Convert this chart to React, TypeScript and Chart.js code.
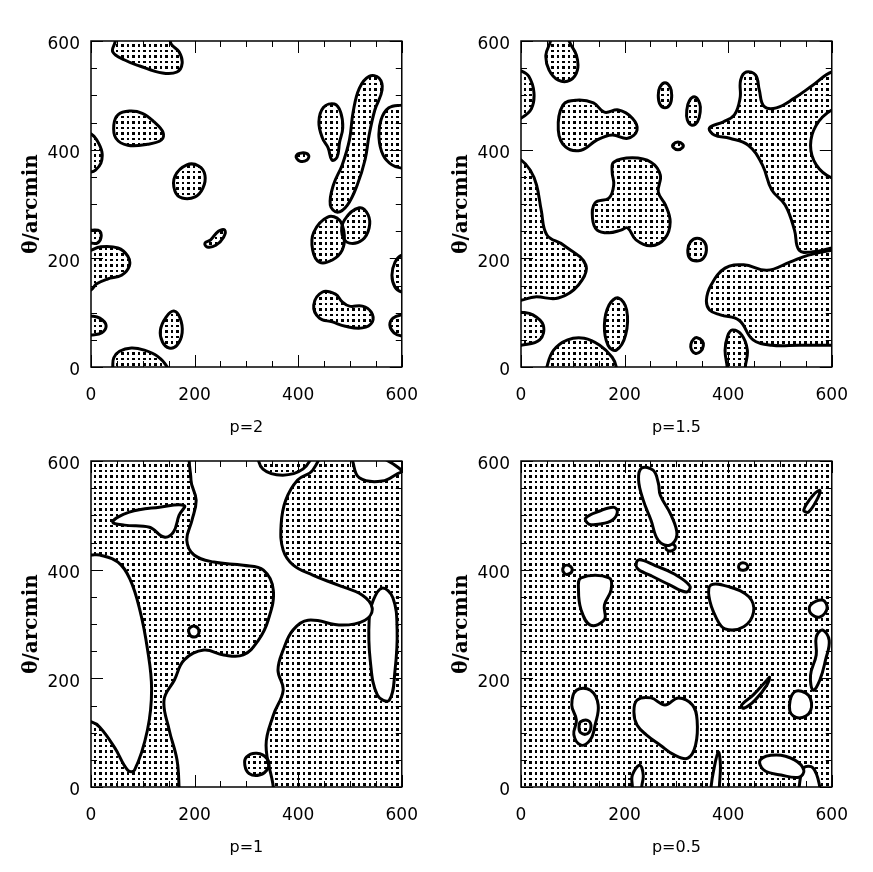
import React, { useEffect, useRef } from "react";
import { Chart, registerables } from "chart.js";
Chart.register(...registerables);

type Pt = [number, number];

const majorTicks = [0, 200, 400, 600];
const minorTicks = [0, 50, 100, 150, 200, 250, 300, 350, 400, 450, 500, 550, 600];
const xTitles = ["p=2", "p=1.5", "p=1", "p=0.5"];
const yTitle = "θ/arcmin";
const fullArea: Pt[] = [[-20, -20], [620, -20], [620, 620], [-20, 620]];

// p=2 : stippled regions
const p2Filled: Pt[][] = [
  [[47,615],[47,600],[42,580],[65,565],[94,554],[138,541],[166,543],[176,559],[170,580],[155,594],[147,615]],
  [[52,464],[74,471],[99,467],[122,451],[139,432],[136,418],[109,410],[71,408],[48,421],[44,445]],
  [[-10,429],[0,429],[11,418],[21,396],[19,375],[8,362],[0,359],[-10,359]],
  [[185,372],[208,370],[220,353],[216,329],[201,313],[176,311],[162,324],[162,351]],
  [[231,234],[246,250],[258,252],[256,239],[241,224],[224,221],[220,228]],
  [[-10,252],[0,252],[17,250],[19,237],[12,228],[0,228],[-10,228]],
  [[-10,215],[0,215],[17,221],[52,219],[71,204],[74,186],[59,169],[32,162],[11,153],[0,142],[-10,142]],
  [[-10,94],[0,94],[17,90],[29,77],[21,63],[0,59],[-10,59]],
  [[160,103],[172,90],[176,63],[166,40],[151,35],[138,46],[134,68],[145,92]],
  [[42,-15],[42,0],[44,17],[55,29],[78,35],[103,31],[128,20],[147,0],[147,-15]],
  [[396,388],[407,394],[420,390],[417,381],[403,379]],
  [[449,478],[470,484],[482,469],[486,440],[480,414],[475,386],[465,381],[458,403],[447,421],[440,451]],
  [[537,535],[556,532],[562,510],[548,473],[537,427],[529,381],[514,335],[495,298],[476,285],[462,298],[468,335],[485,372],[499,418],[506,469],[518,513]],
  [[615,482],[600,482],[575,477],[560,455],[556,422],[564,390],[581,372],[600,366],[615,366]],
  [[457,276],[480,270],[489,243],[485,215],[466,197],[441,193],[428,215],[430,248]],
  [[518,293],[535,280],[537,256],[524,234],[499,228],[485,243],[489,270]],
  [[615,206],[600,206],[587,193],[581,169],[587,147],[600,138],[615,138]],
  [[447,138],[472,134],[485,120],[499,112],[524,112],[541,101],[543,83],[524,72],[491,75],[466,83],[441,90],[430,114]],
  [[615,96],[600,96],[583,90],[577,77],[585,63],[600,57],[615,57]],
];

// p=1.5 : stippled regions
const p15Filled: Pt[][] = [
  [[57,615],[57,600],[48,574],[54,547],[72,528],[95,528],[109,547],[107,574],[93,600],[93,615]],
  [[-10,545],[0,545],[15,535],[25,505],[20,475],[0,458],[-10,458]],
  [[81,482],[107,491],[140,486],[161,469],[188,473],[215,458],[224,436],[206,421],[176,427],[147,418],[116,399],[86,405],[72,436]],
  [[278,523],[288,515],[291,500],[288,484],[278,477],[268,484],[265,500],[268,515]],
  [[336,497],[345,485],[346,470],[341,452],[330,445],[321,455],[320,472],[325,490]],
  [[303,414],[312,410],[312,404],[303,400],[294,404],[294,410]],
  [[364,440],[390,451],[412,464],[423,495],[424,528],[435,543],[453,537],[460,510],[469,480],[493,477],[528,495],[564,519],[600,543],[629,543],[629,477],[600,473],[570,445],[559,408],[570,372],[600,348],[629,348],[629,224],[600,219],[564,212],[537,215],[528,252],[510,298],[484,326],[466,372],[439,408],[403,421],[373,427]],
  [[179,377],[215,385],[251,377],[269,353],[265,322],[279,298],[288,267],[278,237],[251,223],[222,234],[206,256],[193,252],[170,247],[147,252],[138,274],[143,302],[170,311],[179,335],[176,359]],
  [[-10,381],[0,381],[18,362],[30,335],[39,289],[50,243],[81,225],[125,188],[111,151],[72,127],[27,129],[0,123],[-10,123]],
  [[-10,101],[0,101],[23,96],[43,77],[36,50],[0,40],[-10,40]],
  [[50,-15],[50,0],[63,31],[90,50],[122,53],[152,40],[176,18],[184,0],[184,-15]],
  [[188,127],[204,105],[202,59],[184,31],[168,40],[161,77],[170,114]],
  [[340,54],[350,48],[352,39],[347,29],[337,25],[329,32],[328,42],[333,51]],
  [[408,68],[426,59],[437,31],[433,0],[433,-15],[398,-15],[398,0],[394,31],[399,57]],
  [[340,237],[354,230],[358,215],[352,200],[339,195],[326,200],[322,215],[327,230]],
  [[358,123],[367,151],[394,182],[430,188],[475,178],[519,193],[555,206],[600,215],[629,215],[629,40],[600,40],[537,40],[484,40],[448,50],[421,86],[385,96],[364,105]],
];

// p=1 : white holes in a stippled field, stippled islands inside holes
const p1Holes: Pt[][] = [
  [[42,488],[74,506],[132,515],[180,518],[170,500],[159,469],[141,460],[113,478],[65,482]],
  [[201,620],[438,620],[428,583],[399,565],[376,528],[367,482],[371,436],[390,409],[428,390],[476,372],[524,353],[543,329],[529,307],[485,298],[419,307],[390,289],[371,252],[361,215],[371,178],[352,132],[338,77],[352,0],[352,-24],[170,-24],[170,0],[166,50],[151,105],[141,160],[161,197],[180,234],[218,252],[256,243],[294,243],[323,270],[342,307],[352,362],[333,399],[294,408],[237,414],[199,427],[185,454],[195,491],[203,528],[193,565]],
  [[-20,427],[0,427],[17,427],[52,414],[75,383],[94,327],[109,254],[117,180],[109,105],[84,31],[71,31],[46,72],[17,110],[0,120],[-20,120]],
  [[562,366],[583,348],[591,289],[587,215],[576,160],[553,169],[539,234],[537,307],[545,344]],
  [[500,620],[505,600],[518,569],[562,563],[600,580],[620,580],[620,620]],
  [[190,292],[200,296],[208,289],[205,278],[194,277],[189,284]],
];
const p1Islands: Pt[][] = [
  [[327,610],[332,585],[370,574],[409,585],[422,610]],
  [[300,55],[320,62],[340,52],[342,35],[325,22],[305,25],[297,40]],
];

// p=0.5 : white holes in a stippled field
const p05Holes: Pt[][] = [
  [[125,495],[152,508],[179,515],[186,506],[176,491],[152,484],[131,484]],
  [[233,587],[255,583],[265,560],[269,537],[290,500],[301,464],[287,445],[265,454],[251,491],[236,528],[227,565]],
  [[280,444],[290,448],[298,442],[292,435],[282,436]],
  [[227,418],[260,407],[296,392],[326,370],[319,359],[287,372],[251,389],[224,403]],
  [[116,385],[170,385],[174,363],[161,335],[161,308],[134,298],[116,326],[111,363]],
  [[82,405],[92,408],[99,400],[92,392],[83,394]],
  [[367,372],[403,368],[440,350],[449,322],[430,295],[394,291],[376,313],[363,350]],
  [[422,410],[432,412],[438,405],[430,399],[421,402]],
  [[546,510],[564,537],[577,546],[573,532],[555,506]],
  [[559,335],[582,344],[591,329],[577,313],[559,320]],
  [[582,289],[595,270],[588,234],[577,197],[564,178],[559,206],[570,243],[570,276]],
  [[528,175],[555,169],[559,140],[537,127],[519,140]],
  [[426,151],[448,169],[475,197],[480,202],[475,188],[452,160],[430,145]],
  [[107,178],[134,178],[149,151],[143,114],[134,87],[116,77],[102,96],[107,123],[98,151]],
  [[224,160],[251,164],[278,151],[304,164],[331,151],[340,123],[337,77],[322,53],[296,59],[269,77],[242,96],[224,114],[218,138]],
  [[215,-20],[215,0],[215,22],[229,40],[236,22],[233,0],[233,-20]],
  [[367,-20],[367,0],[372,31],[381,64],[385,40],[383,0],[383,-20]],
  [[462,50],[493,59],[528,50],[546,31],[537,18],[502,22],[469,31]],
  [[537,-20],[537,0],[546,35],[564,35],[577,0],[577,-20]],
];
const p05Islands: Pt[][] = [
  [[115,120],[130,122],[135,110],[128,98],[115,100],[112,110]],
];

function makePattern(): CanvasPattern {
  const c = document.createElement("canvas");
  c.width = 11;
  c.height = 11;
  const g = c.getContext("2d")!;
  g.fillStyle = "#000";
  g.fillRect(0, 0, 3, 3);
  g.fillRect(6, 0, 2, 3);
  g.fillRect(0, 6, 3, 2);
  g.fillRect(6, 6, 2, 2);
  return g.createPattern(c, "repeat")!;
}

const loopPlugin = {
  id: "loopShapes",
  afterDatasetUpdate(chart: any, args: any) {
    const el = args.meta && args.meta.dataset;
    if (el) {
      el._loop = true;
      el._fullLoop = true;
      delete el._segments;
      delete el._path;
      el._pointsUpdated = false;
    }
  },
};

const framePlugin = {
  id: "frameTicks",
  afterDatasetsDraw(chart: any) {
    const { ctx, chartArea: a } = chart;
    const xs = chart.scales.x;
    const ys = chart.scales.y;
    ctx.save();
    ctx.strokeStyle = "#000";
    ctx.lineWidth = 1;
    ctx.beginPath();
    for (const v of minorTicks) {
      const len = majorTicks.includes(v) ? 12 : 6;
      const px = Math.round(xs.getPixelForValue(v)) + 0.5;
      ctx.moveTo(px, a.bottom);
      ctx.lineTo(px, a.bottom - len);
      ctx.moveTo(px, a.top);
      ctx.lineTo(px, a.top + len);
      const py = Math.round(ys.getPixelForValue(v)) + 0.5;
      ctx.moveTo(a.left, py);
      ctx.lineTo(a.left + len, py);
      ctx.moveTo(a.right, py);
      ctx.lineTo(a.right - len, py);
    }
    ctx.stroke();
    ctx.lineWidth = 1.5;
    ctx.strokeRect(a.left, a.top, a.right - a.left, a.bottom - a.top);
    ctx.restore();
  },
};

interface PanelProps {
  left: number;
  top: number;
  title: string;
  filled: Pt[][];
  holes: Pt[][];
  islands: Pt[][];
  background: boolean;
}

const CW = 436;
const CH = 452;

function toXY(p: Pt[]) {
  return p.map(([x, y]) => ({ x, y }));
}

function Panel(props: PanelProps) {
  const ref = useRef<HTMLCanvasElement>(null);
  useEffect(() => {
    const pattern = makePattern();
    const datasets: any[] = [];
    const shape = (pts: Pt[], bg: any, border: number, order: number, tension: number) => ({
      data: toXY(pts),
      backgroundColor: bg,
      borderColor: "#000",
      borderWidth: border,
      fill: "shape",
      tension,
      pointRadius: 0,
      order,
      clip: 0,
      borderJoinStyle: "round",
    });
    if (props.background) datasets.push(shape(fullArea, pattern, 0, 4, 0));
    props.holes.forEach((h) => datasets.push(shape(h, "#fff", 3, 3, 0.4)));
    props.filled.forEach((f) => datasets.push(shape(f, pattern, 3, 2, 0.4)));
    props.islands.forEach((f) => datasets.push(shape(f, pattern, 3, 1, 0.4)));
    const tickFont = { family: "DejaVu Sans", size: 17 };
    const chart = new Chart(ref.current!, {
      type: "line",
      data: { datasets },
      options: {
        animation: false,
        responsive: false,
        events: [],
        layout: { padding: { left: 0, top: 41, right: 31, bottom: 0 } },
        elements: { line: { capBezierPoints: false } },
        plugins: { legend: { display: false }, tooltip: { enabled: false } },
        scales: {
          x: {
            type: "linear",
            min: 0,
            max: 600,
            afterBuildTicks: (s: any) => {
              s.ticks = majorTicks.map((v) => ({ value: v }));
            },
            ticks: { font: tickFont, color: "#000", padding: 18, maxRotation: 0, autoSkip: false },
            grid: { display: false, drawTicks: false },
            border: { display: false },
            title: {
              display: true,
              text: props.title,
              color: "#000",
              font: { family: "DejaVu Sans", size: 16 },
              padding: { top: 0, bottom: 15 },
            },
            afterFit: (s: any) => {
              s.height = CH - 41 - 326;
            },
          },
          y: {
            type: "linear",
            min: 0,
            max: 600,
            afterBuildTicks: (s: any) => {
              s.ticks = majorTicks.map((v) => ({ value: v }));
            },
            ticks: { font: tickFont, color: "#000", padding: 11, labelOffset: 4, autoSkip: false },
            grid: { display: false, drawTicks: false },
            border: { display: false },
            title: {
              display: true,
              text: yTitle,
              color: "#000",
              font: { family: "DejaVu Serif", size: 20, weight: "bold" },
              padding: { top: 20, bottom: 0 },
            },
            afterFit: (s: any) => {
              s.width = 91;
            },
          },
        },
      } as any,
      plugins: [loopPlugin, framePlugin],
    });
    return () => chart.destroy();
  }, []);
  return (
    <canvas
      ref={ref}
      width={CW}
      height={CH}
      style={{ position: "absolute", left: props.left, top: props.top, width: CW, height: CH }}
    />
  );
}

export default function App() {
  return (
    <div style={{ position: "absolute", left: 0, top: 0, width: 873, height: 872, background: "#fff" }}>
      <Panel left={0} top={0} title={xTitles[0]} filled={p2Filled} holes={[]} islands={[]} background={false} />
      <Panel left={430} top={0} title={xTitles[1]} filled={p15Filled} holes={[]} islands={[]} background={false} />
      <Panel left={0} top={420} title={xTitles[2]} filled={[]} holes={p1Holes} islands={p1Islands} background={true} />
      <Panel left={430} top={420} title={xTitles[3]} filled={[]} holes={p05Holes} islands={p05Islands} background={true} />
    </div>
  );
}
